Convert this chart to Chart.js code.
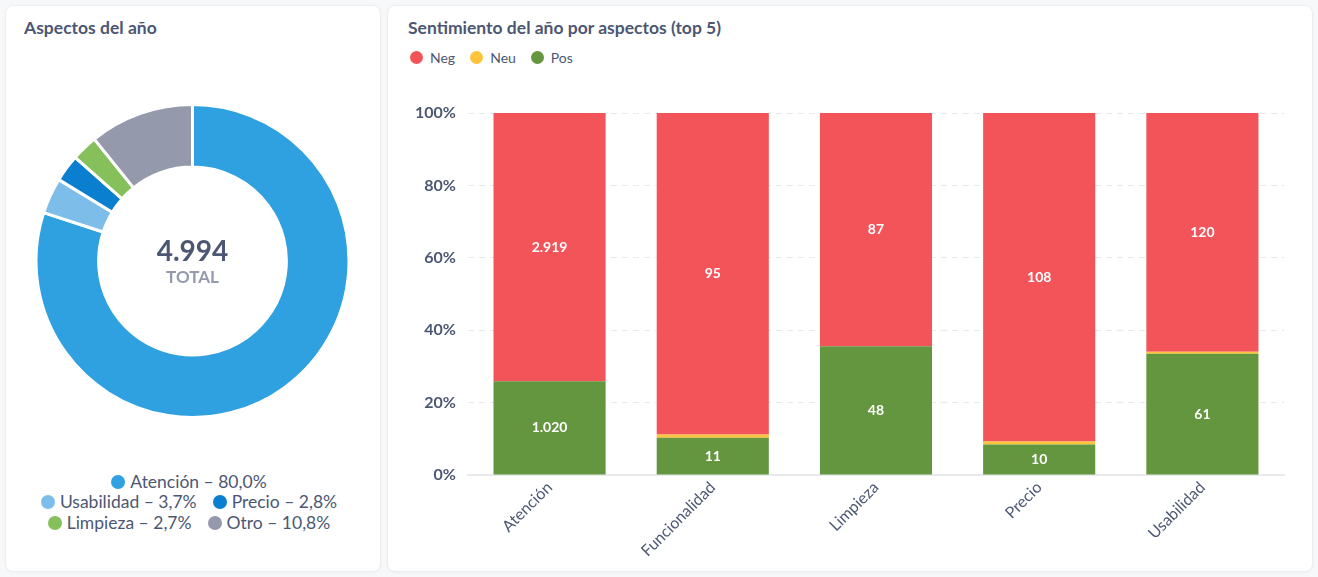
<!DOCTYPE html>
<html lang="es">
<head>
<meta charset="UTF-8">
<title>Aspectos del año</title>
<script src="https://cdn.jsdelivr.net/npm/chart.js"></script>
<style>
  html, body { margin: 0; padding: 0; }
  body {
    width: 1318px; height: 577px; position: relative; overflow: hidden;
    background: #f7f8fa; font-family: Lato, "Open Sans", sans-serif; color: #4c5773;
  }
  .card {
    position: absolute; top: 5px; height: 567px; background: #fff;
    border: 1px solid #eceef2; border-radius: 8px; box-sizing: border-box;
    box-shadow: 0 1px 3px rgba(0,0,0,0.04);
  }
  .title { position: absolute; left: 18px; top: 11px; font-size: 17.5px; font-weight: 700; }
  .legend { position: absolute; display: flex; flex-wrap: wrap; }
  .legend .item { display: flex; align-items: center; white-space: nowrap; }
  .legend .dot { border-radius: 50%; display: inline-block; }
  #donutLegend { left: 28px; width: 310px; justify-content: center; column-gap: 16px; top: 466px; font-size: 17.5px; line-height: 20.3px; }
  #donutLegend .dot { width: 14px; height: 14px; margin-right: 5px; }
  #barLegend { left: 22px; top: 43px; font-size: 14px; }
  #barLegend .item { margin-right: 15px; }
  #barLegend .dot { width: 13px; height: 13px; margin-right: 7px; }
  .box { position: absolute; }
</style>
</head>
<body>
  <!-- tarjeta izquierda: donut -->
  <div class="card" style="left:5px; width:376px;">
    <div class="title">Aspectos del año</div>
    <div class="box" style="left:-1px; top:95px; width:375px; height:320px;">
      <canvas id="donut"></canvas>
    </div>
    <div class="legend" id="donutLegend"></div>
  </div>

  <!-- tarjeta derecha: barras apiladas -->
  <div class="card" style="left:387px; width:926px;">
    <div class="title" style="left:20px;">Sentimiento del año por aspectos (top 5)</div>
    <div class="legend" id="barLegend"></div>
    <div class="box" style="left:0; top:75px; width:925px; height:489px;">
      <canvas id="bars"></canvas>
    </div>
  </div>

<script>
  // datos del donut
  const aspectos = ['Atención', 'Usabilidad', 'Precio', 'Limpieza', 'Otro'];
  const aspectosValores = [3995, 185, 140, 135, 539];
  const aspectosColores = ['#2fa0e0', '#7dbdea', '#0a7ecf', '#85c05a', '#949aab'];

  // datos de las barras
  const categorias = ['Atención', 'Funcionalidad', 'Limpieza', 'Precio', 'Usabilidad'];
  const neg = [2919, 95, 87, 108, 120];
  const neu = [0, 1, 0, 1, 1];
  const pos = [1020, 11, 48, 10, 61];
  const series = ['Neg', 'Neu', 'Pos'];
  const seriesColores = ['#f3545a', '#fcc33b', '#64953f'];
  const ticksY = [0, 20, 40, 60, 80, 100];

  const textColor = '#4c5773';
  const fmt = n => String(n).replace(/\B(?=(\d{3})+(?!\d))/g, '.');

  // leyendas en html
  const total = aspectosValores.reduce((a, b) => a + b, 0);
  const dl = document.getElementById('donutLegend');
  aspectos.forEach((a, i) => {
    const pct = (aspectosValores[i] / total * 100).toFixed(1).replace('.', ',');
    dl.innerHTML += '<span class="item"><span class="dot" style="background:' + aspectosColores[i] + '"></span>' + a + ' – ' + pct + '%</span>';
  });
  const bl = document.getElementById('barLegend');
  series.forEach((s, i) => {
    bl.innerHTML += '<span class="item"><span class="dot" style="background:' + seriesColores[i] + '"></span>' + s + '</span>';
  });

  // texto central del donut
  const centro = {
    id: 'centro',
    afterDraw(chart) {
      const a = chart.getDatasetMeta(0).data[0];
      const ctx = chart.ctx;
      ctx.save();
      ctx.textAlign = 'center';
      ctx.textBaseline = 'middle';
      ctx.fillStyle = textColor;
      ctx.font = 'bold 28px Lato';
      ctx.fillText(fmt(total), a.x, a.y - 9);
      ctx.fillStyle = '#949aab';
      ctx.font = 'bold 17px Lato';
      ctx.fillText('TOTAL', a.x, a.y + 17);
      ctx.restore();
    }
  };

  new Chart(document.getElementById('donut'), {
    type: 'doughnut',
    data: {
      labels: aspectos,
      datasets: [{
        data: aspectosValores,
        backgroundColor: aspectosColores,
        borderColor: '#fff',
        borderWidth: 3
      }]
    },
    options: {
      responsive: true,
      maintainAspectRatio: false,
      animation: false,
      cutout: '60%',
      layout: { padding: 2 },
      plugins: { legend: { display: false }, tooltip: { enabled: false } }
    },
    plugins: [centro]
  });

  // barras al 100%
  const totales = categorias.map((c, i) => neg[i] + neu[i] + pos[i]);
  const pct = arr => arr.map((v, i) => v / totales[i] * 100);
  // mismo orden que los datasets (de abajo hacia arriba)
  const conteos = [pos, neu, neg];

  const etiquetas = {
    id: 'etiquetas',
    afterDatasetsDraw(chart) {
      const ctx = chart.ctx;
      ctx.save();
      ctx.fillStyle = '#fff';
      ctx.font = 'bold 14px Lato';
      ctx.textAlign = 'center';
      ctx.textBaseline = 'middle';
      chart.data.datasets.forEach((ds, d) => {
        chart.getDatasetMeta(d).data.forEach((bar, i) => {
          const v = conteos[d][i];
          if (!v || Math.abs(bar.base - bar.y) < 18) return;
          ctx.fillText(fmt(v), bar.x, (bar.y + bar.base) / 2);
        });
      });
      ctx.restore();
    }
  };

  new Chart(document.getElementById('bars'), {
    type: 'bar',
    data: {
      labels: categorias,
      datasets: [
        { label: series[2], data: pct(pos), backgroundColor: seriesColores[2] },
        { label: series[1], data: pct(neu), backgroundColor: seriesColores[1] },
        { label: series[0], data: pct(neg), backgroundColor: seriesColores[0] }
      ]
    },
    options: {
      responsive: true,
      maintainAspectRatio: false,
      animation: false,
      barPercentage: 0.687,
      categoryPercentage: 1,
      layout: { padding: { left: 15, right: 29, top: 32, bottom: 0 } },
      plugins: { legend: { display: false }, tooltip: { enabled: false } },
      scales: {
        x: {
          stacked: true,
          grid: { display: false },
          border: { display: true, color: '#e8eaed', width: 2 },
          ticks: { color: textColor, font: { family: 'Lato', size: 16 }, minRotation: 45, maxRotation: 45, padding: -5 },
          afterFit(scale) { scale.height = 95; scale.paddingLeft = 0; scale.paddingRight = 0; }
        },
        y: {
          stacked: true,
          min: 0,
          max: 100,
          afterBuildTicks(scale) { scale.ticks = ticksY.map(v => ({ value: v })); },
          grid: { color: '#e8eaed', drawTicks: false },
          border: { display: false, dash: [6, 5] },
          ticks: { color: textColor, font: { family: 'Lato', size: 16, weight: 'bold' }, padding: 12, callback: v => v + '%' }
        }
      }
    },
    plugins: [etiquetas]
  });
</script>
</body>
</html>
